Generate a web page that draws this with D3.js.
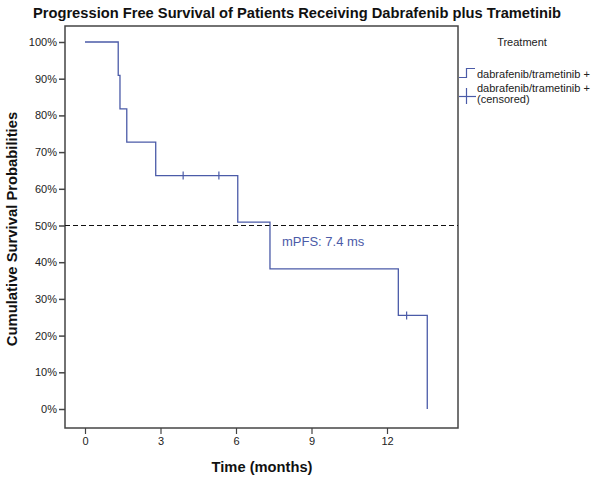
<!DOCTYPE html>
<html><head><meta charset="utf-8">
<script src="https://cdn.jsdelivr.net/npm/d3@7"></script>
<style>body{margin:0;background:#fff}svg{font-family:"Liberation Sans",Arial,sans-serif}</style>
</head><body><svg id="c" width="593" height="481"></svg>
<script>
// Kaplan-Meier step data (time in months, survival fraction)
const stepTimes = [0, 1.32, 1.39, 1.66, 2.81, 6.07, 7.35, 12.45, 13.6];
const stepSurv  = [1.0, 0.909, 0.818, 0.727, 0.636, 0.509, 0.382, 0.255, 0.0];
const censorTimes = [3.9, 5.32, 12.78];
const censorSurv  = [0.636, 0.636, 0.255];
const xTicks = [0, 3, 6, 9, 12];
const yTicks = [0, 0.1, 0.2, 0.3, 0.4, 0.5, 0.6, 0.7, 0.8, 0.9, 1.0];
const medianLabel = "mPFS: 7.4 ms";

const svg = d3.select("#c");
const blue = "#4b5ba8";
const frame = {l:65, r:458, t:26, b:428};
const x = d3.scaleLinear().domain([0, 12]).range([85, 387]);
const y = d3.scaleLinear().domain([0, 1]).range([409, 42]);

// frame
svg.append("rect").attr("x", frame.l).attr("y", frame.t)
  .attr("width", frame.r - frame.l).attr("height", frame.b - frame.t)
  .attr("fill", "none").attr("stroke", "#444").attr("stroke-width", 1.5);

// y axis
const yAxis = d3.axisLeft(y).tickValues(yTicks).tickFormat(d3.format(".0%")).tickSize(6).tickPadding(2);
const gy = svg.append("g").attr("transform", `translate(${frame.l},0)`).call(yAxis);
gy.select(".domain").remove();
gy.selectAll("line").attr("stroke", "#444").attr("stroke-width", 1.5);
gy.selectAll("text").attr("font-size", 11).attr("fill", "#222");

// x axis
const xAxis = d3.axisBottom(x).tickValues(xTicks).tickSize(6).tickPadding(3);
const gx = svg.append("g").attr("transform", `translate(0,${frame.b})`).call(xAxis);
gx.select(".domain").remove();
gx.selectAll("line").attr("stroke", "#444").attr("stroke-width", 1.2);
gx.selectAll("text").attr("font-size", 11).attr("fill", "#222");

// dashed 50% line
svg.append("line").attr("x1", frame.l).attr("x2", frame.r)
  .attr("y1", y(0.5)).attr("y2", y(0.5))
  .attr("stroke", "#111").attr("stroke-dasharray", "5,3").attr("stroke-width", 1);

// KM step line
const pts = stepTimes.map((t, i) => [t, stepSurv[i]]);
const line = d3.line().x(d => x(d[0])).y(d => y(d[1])).curve(d3.curveStepAfter);
svg.append("path").attr("d", line(pts)).attr("fill", "none")
  .attr("stroke", blue).attr("stroke-width", 1.3);

// censor marks
svg.selectAll(".cens").data(censorTimes).enter().append("line")
  .attr("x1", d => x(d)).attr("x2", d => x(d))
  .attr("y1", (d, i) => y(censorSurv[i]) - 4).attr("y2", (d, i) => y(censorSurv[i]) + 4)
  .attr("stroke", blue).attr("stroke-width", 1.2);

// median label
svg.append("text").attr("x", 282).attr("y", 245.5).attr("font-size", 13)
  .attr("fill", blue).text(medianLabel);

// titles
svg.append("text").attr("x", 297).attr("y", 18).attr("text-anchor", "middle")
  .attr("font-size", 14.7).attr("font-weight", "bold").attr("fill", "#111")
  .text("Progression Free Survival of Patients Receiving Dabrafenib plus Trametinib");
svg.append("text").attr("x", 262).attr("y", 472).attr("text-anchor", "middle")
  .attr("font-size", 14.7).attr("font-weight", "bold").attr("fill", "#111").text("Time (months)");
svg.append("text").attr("transform", `translate(17,229) rotate(-90)`)
  .attr("text-anchor", "middle").attr("font-size", 14.8).attr("font-weight", "bold")
  .attr("fill", "#111").text("Cumulative Survival Probabilities");

// legend
const lg = svg.append("g");
lg.append("text").attr("x", 522).attr("y", 46).attr("text-anchor", "middle")
  .attr("font-size", 11).attr("fill", "#222").text("Treatment");
lg.append("path").attr("d", "M459,77.5H466.5V68.5H475").attr("fill", "none")
  .attr("stroke", blue).attr("stroke-width", 1.2);
lg.append("text").attr("x", 477).attr("y", 77.5).attr("font-size", 11).attr("fill", "#222")
  .text("dabrafenib/trametinib +");
lg.append("line").attr("x1", 459).attr("x2", 476).attr("y1", 96.5).attr("y2", 96.5)
  .attr("stroke", blue).attr("stroke-width", 1.2);
lg.append("line").attr("x1", 466.5).attr("x2", 466.5).attr("y1", 88).attr("y2", 104)
  .attr("stroke", blue).attr("stroke-width", 1.2);
lg.append("text").attr("x", 477).attr("y", 92).attr("font-size", 11).attr("fill", "#222")
  .text("dabrafenib/trametinib +");
lg.append("text").attr("x", 477).attr("y", 103).attr("font-size", 11).attr("fill", "#222")
  .text("(censored)");
</script></body></html>
